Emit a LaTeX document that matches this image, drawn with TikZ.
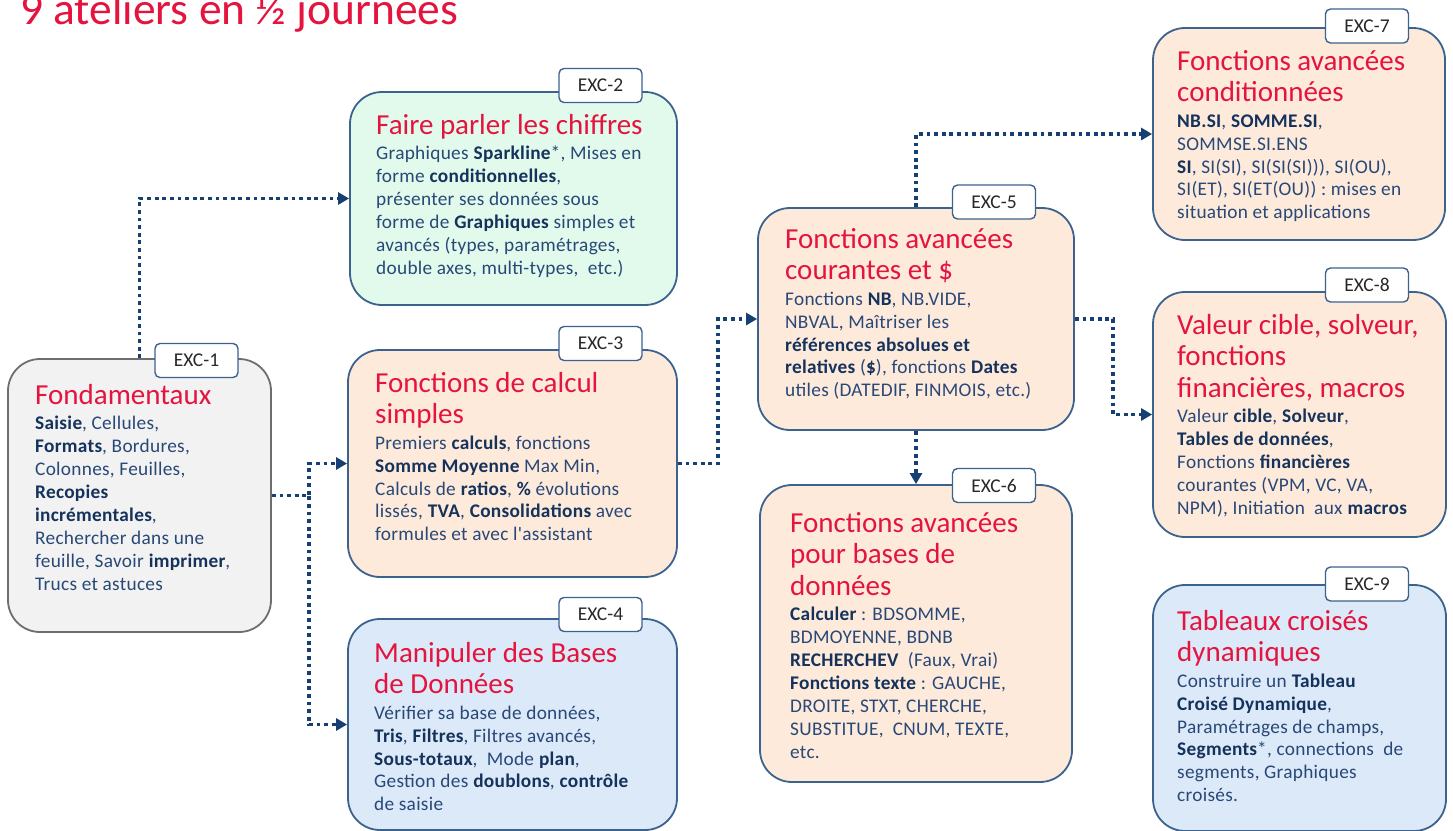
\documentclass[tikz,border=0pt]{standalone}
\usepackage{fontspec}
\setmainfont{Carlito}[Ligatures=TeXOff]
\usetikzlibrary{arrows.meta}
\definecolor{tred}{RGB}{228,20,62}
\definecolor{bodyc}{RGB}{40,72,120}
\definecolor{boldc}{RGB}{20,50,92}
\definecolor{bordc}{RGB}{60,98,142}
\definecolor{grayb}{RGB}{110,110,110}
\definecolor{connc}{RGB}{22,64,115}
\definecolor{labc}{RGB}{40,40,40}
\definecolor{fgray}{RGB}{242,242,242}
\definecolor{fgreen}{RGB}{226,250,236}
\definecolor{fpeach}{RGB}{253,234,218}
\definecolor{fblue}{RGB}{220,233,248}
\newcommand\bb[1]{\textbf{\textcolor{boldc}{#1}}}
\newcommand\btext[2]{\parbox[t]{330pt}{\raggedright
  \fontsize{29}{31.5}\selectfont\textcolor{tred}{#1}\par
  \vspace{2.8pt}%
  \fontsize{19.3}{22.9}\selectfont\addfontfeatures{LetterSpace=1.5}#2\par}}
\tikzset{
  rbox/.style={draw=bordc, line width=1.8pt, rounded corners=32pt, inner sep=0pt},
  lab/.style={draw=bordc, fill=white, line width=1.4pt, rounded corners=5pt,
    minimum width=83pt, minimum height=34pt, inner sep=0pt,
    font=\fontsize{19.5}{21}\selectfont, text=labc},
  txt/.style={anchor=base west, inner sep=0pt, text=bodyc},
  conn/.style={draw=connc, line width=3.8pt, dash pattern=on 3.8pt off 3.8pt,
    -{Triangle[length=11pt,width=12pt]}},
}
\begin{document}
\begin{tikzpicture}[x=1pt,y=-1pt]
\useasboundingbox (0,0) rectangle (1453,830);
\node[anchor=base west, inner sep=0pt, text=tred, font=\fontsize{45.5}{47}\selectfont] (ttl) at (20,24) {9 ateliers en ½ journées};

% boxes
\node[rbox, draw=grayb, fill=fgray, minimum width=263pt, minimum height=273pt] (b1) at (139.5,495.5) {};
\node[rbox, fill=fgreen, minimum width=327pt, minimum height=213pt] (b2) at (513.5,198.5) {};
\node[rbox, fill=fpeach, minimum width=329pt, minimum height=227pt] (b3) at (512.5,463.5) {};
\node[rbox, fill=fblue, minimum width=329pt, minimum height=211pt] (b4) at (512.5,724.5) {};
\node[rbox, fill=fpeach, minimum width=316pt, minimum height=222pt] (b5) at (916,319) {};
\node[rbox, fill=fpeach, minimum width=312pt, minimum height=297pt] (b6) at (916,633.5) {};
\node[rbox, fill=fpeach, minimum width=292pt, minimum height=212pt] (b7) at (1299,134) {};
\node[rbox, fill=fpeach, minimum width=293pt, minimum height=245pt] (b8) at (1299.5,414.5) {};
\node[rbox, fill=fblue, minimum width=293pt, minimum height=246pt] (b9) at (1299.5,708) {};

% connectors
\coordinate (j1) at (309,0);
\coordinate (j2) at (718,0);
\coordinate (j3) at (1113,0);
\draw[conn] (b1.north) |- (b2.west);
\draw[conn] (b1.east) -- (b1.east -| j1) |- (b3.west);
\draw[conn] (b1.east) -- (b1.east -| j1) |- (b4.west);
\draw[conn] (b3.east) -- (b3.east -| j2) |- (b5.west);
\draw[conn] (b5.north) |- (b7.west);
\draw[conn] (b5.east) -- (b5.east -| j3) |- (b8.west);
\draw[conn] (b5.south) -- (b6.north);

% labels
\node[lab] (l1) at (196.5,360.5) {EXC-1};
\node[lab] (l2) at (600.5,85.5) {EXC-2};
\node[lab] (l3) at (600.5,343.5) {EXC-3};
\node[lab] (l4) at (600.5,614.5) {EXC-4};
\node[lab] (l5) at (994,202) {EXC-5};
\node[lab] (l6) at (994,485.5) {EXC-6};
\node[lab] (l7) at (1367,26) {EXC-7};
\node[lab] (l8) at (1367,285) {EXC-8};
\node[lab] (l9) at (1367,584) {EXC-9};

% texts
\node[txt] (t1) at (35,404) {\btext{Fondamentaux}{\bb{Saisie}, Cellules,\\
\bb{Formats}, Bordures,\\
Colonnes, Feuilles,\\
\bb{Recopies}\\
\bb{incrémentales},\\
Rechercher dans une\\
feuille, Savoir \bb{imprimer},\\
Trucs et astuces}};

\node[txt] (t2) at (376,134) {\btext{Faire parler les chiffres}{Graphiques \bb{Sparkline}*, Mises en\\
forme \bb{conditionnelles},\\
présenter ses données sous\\
forme de \bb{Graphiques} simples et\\
avancés (types, paramétrages,\\
double axes, multi-types,~ etc.)}};

\node[txt] (t3) at (375,392) {\btext{Fonctions de calcul\\simples}{Premiers \bb{calculs}, fonctions\\
\bb{Somme Moyenne} Max Min,\\
Calculs de \bb{ratios}, \bb{\%} évolutions\\
lissés, \bb{TVA}, \bb{Consolidations} avec\\
formules et avec l'assistant}};

\node[txt] (t4) at (374,662) {\btext{Manipuler des Bases\\de Données}{Vérifier sa base de données,\\
\bb{Tris}, \bb{Filtres}, Filtres avancés,\\
\bb{Sous-totaux},~ Mode \bb{plan},\\
Gestion des \bb{doublons}, \bb{contrôle}\\
de saisie}};

\node[txt] (t5) at (785,248) {\btext{Fonctions avancées\\courantes et \$}{Fonctions \bb{NB}, NB.VIDE,\\
NBVAL, Maîtriser les\\
\bb{références absolues et}\\
\bb{relatives} (\bb{\$}), fonctions \bb{Dates}\\
utiles (DATEDIF, FINMOIS, etc.)}};

\node[txt] (t6) at (790,532) {\btext{Fonctions avancées\\pour bases de\\données}{\bb{Calculer} : BDSOMME,\\
BDMOYENNE, BDNB\\
\bb{RECHERCHEV}~ (Faux, Vrai)\\
\bb{Fonctions texte} : GAUCHE,\\
DROITE, STXT, CHERCHE,\\
SUBSTITUE,~ CNUM, TEXTE,\\
etc.}};

\node[txt] (t7) at (1177,70) {\btext{Fonctions avancées\\conditionnées}{\bb{NB.SI}, \bb{SOMME.SI},\\
SOMMSE.SI.ENS\\
\bb{SI}, SI(SI), SI(SI(SI))), SI(OU),\\
SI(ET), SI(ET(OU)) : mises en\\
situation et applications}};

\node[txt] (t8) at (1177,334) {\btext{Valeur cible, solveur,\\fonctions\\financières, macros}{Valeur \bb{cible}, \bb{Solveur},\\
\bb{Tables de données},\\
Fonctions \bb{financières}\\
courantes (VPM, VC, VA,\\
NPM), Initiation~ aux \bb{macros}}};

\node[txt] (t9) at (1177,630) {\btext{Tableaux croisés\\dynamiques}{Construire un \bb{Tableau}\\
\bb{Croisé Dynamique},\\
Paramétrages de champs,\\
\bb{Segments}*, connections~ de\\
segments, Graphiques\\
croisés.}};
\end{tikzpicture}
\end{document}
